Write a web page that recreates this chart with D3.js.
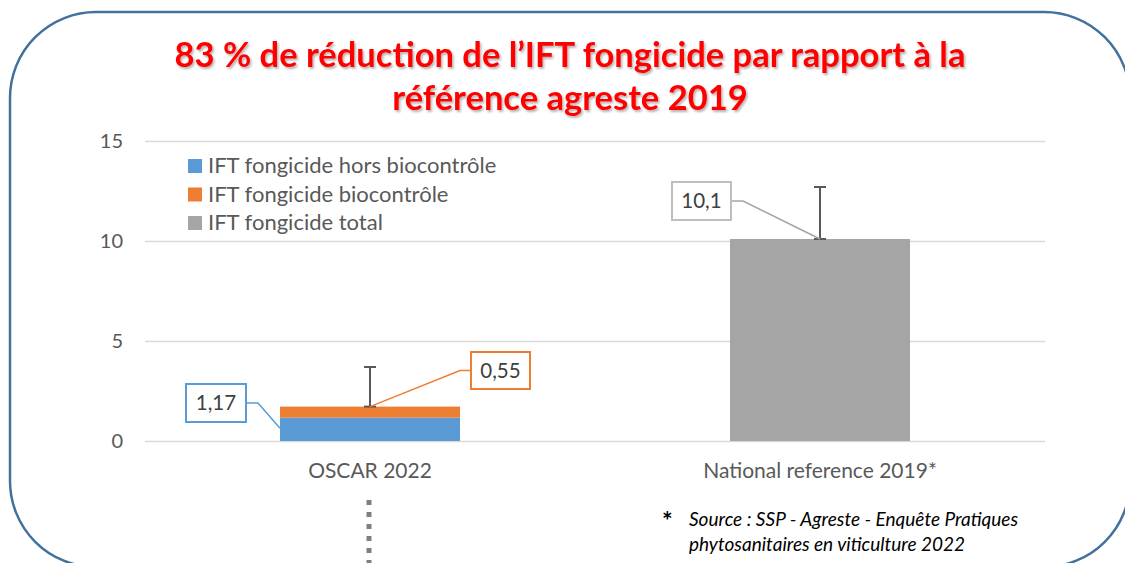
<!DOCTYPE html>
<html lang="fr">
<head>
<meta charset="UTF-8">
<title>IFT fongicide</title>
<script src="https://cdn.jsdelivr.net/npm/d3@7"></script>
<style>
  body { margin: 0; background: #fff; }
  text { font-family: Lato, "Open Sans", sans-serif; }
</style>
</head>
<body>
<script>
let width = 1125;
let height = 563;

// data
let categories = ['OSCAR 2022', 'National reference 2019*'];
let horsBio = [1.17, 0];
let bio = [0.55, 0];
let total = [0, 10.1];
let errTop = [3.7, 12.7];
let yTicks = [0, 5, 10, 15];
let legendLabels = ['IFT fongicide hors biocontrôle', 'IFT fongicide biocontrôle', 'IFT fongicide total'];
let colors = ['#5b9bd5', '#ed7d31', '#a5a5a5'];
let titleLines = ['83 % de réduction de l’IFT fongicide par rapport à la', 'référence agreste 2019'];
let noteLines = ['Source : SSP - Agreste - Enquête Pratiques', 'phytosanitaires en viticulture 2022'];

let plotLeft = 145, plotRight = 1045, plotTop = 141, plotBottom = 441;

let x = d3.scaleBand()
  .domain(categories)
  .range([plotLeft, plotRight])
  .paddingInner(0.6)
  .paddingOuter(0.3);

let y = d3.scaleLinear()
  .domain([0, 15])
  .range([plotBottom, plotTop]);

let svg = d3.select('body').append('svg')
  .attr('width', width)
  .attr('height', height);

let defs = svg.append('defs');
let f = defs.append('filter').attr('id', 'shadow')
  .attr('x', '-5%').attr('y', '-20%').attr('width', '110%').attr('height', '140%');
f.append('feDropShadow')
  .attr('dx', 1.5).attr('dy', 2).attr('stdDeviation', 1.2)
  .attr('flood-color', '#000').attr('flood-opacity', 0.3);

// frame
svg.append('rect')
  .attr('x', 10).attr('y', 12)
  .attr('width', 1120).attr('height', 555)
  .attr('rx', 86).attr('ry', 86)
  .attr('fill', 'none')
  .attr('stroke', '#41719c')
  .attr('stroke-width', 2.5);

// title
svg.append('g').selectAll('text')
  .data(titleLines)
  .enter().append('text')
  .attr('x', 570)
  .attr('y', (d, i) => 67 + i * 43)
  .attr('text-anchor', 'middle')
  .attr('font-size', 34.5)
  .attr('font-weight', 'bold')
  .attr('fill', '#ff0000')
  .attr('filter', 'url(#shadow)')
  .text(d => d);

// grid + y labels
let yAxis = d3.axisLeft(y)
  .tickValues(yTicks)
  .tickSize(-(plotRight - plotLeft))
  .tickPadding(22);

let gy = svg.append('g')
  .attr('transform', 'translate(' + plotLeft + ',0)')
  .call(yAxis);
gy.select('.domain').remove();
gy.selectAll('.tick line').attr('stroke', '#d9d9d9').attr('stroke-width', 1.5);
gy.selectAll('.tick text')
  .attr('font-size', 20)
  .attr('fill', '#595959')
  .style('font-family', 'Lato, sans-serif');

// x labels
let xAxis = d3.axisBottom(x).tickSize(0).tickPadding(22);
let gx = svg.append('g')
  .attr('transform', 'translate(0,' + plotBottom + ')')
  .call(xAxis);
gx.select('.domain').remove();
gx.selectAll('.tick text')
  .attr('font-size', 21)
  .attr('fill', '#595959')
  .style('font-family', 'Lato, sans-serif');

// bars
let stack = categories.map((c, i) => [
  { c: c, y0: 0, y1: horsBio[i], color: colors[0] },
  { c: c, y0: horsBio[i], y1: horsBio[i] + bio[i], color: colors[1] },
  { c: c, y0: horsBio[i] + bio[i], y1: horsBio[i] + bio[i] + total[i], color: colors[2] }
]).flat().filter(d => d.y1 > d.y0);

svg.append('g').selectAll('rect')
  .data(stack)
  .enter().append('rect')
  .attr('x', d => x(d.c))
  .attr('width', x.bandwidth())
  .attr('y', d => y(d.y1))
  .attr('height', d => y(d.y0) - y(d.y1))
  .attr('fill', d => d.color);

// error bars
let errs = categories.map((c, i) => ({ c: c, base: horsBio[i] + bio[i] + total[i], hi: errTop[i] }));
let ge = svg.append('g').attr('stroke', '#595959').attr('stroke-width', 2);
errs.forEach(d => {
  let cx = x(d.c) + x.bandwidth() / 2;
  ge.append('line').attr('x1', cx).attr('x2', cx).attr('y1', y(d.base)).attr('y2', y(d.hi));
  ge.append('line').attr('x1', cx - 6).attr('x2', cx + 6).attr('y1', y(d.hi)).attr('y2', y(d.hi));
  ge.append('line').attr('x1', cx - 6).attr('x2', cx + 6).attr('y1', y(d.base)).attr('y2', y(d.base));
});

// callouts
function callout(label, bx, by, bw, bh, side, tx, ty, stroke, lineColor) {
  let g = svg.append('g');
  let ex = side === 'right' ? bx + bw : bx;
  let kx = side === 'right' ? ex + 12 : ex - 11;
  let my = by + bh / 2;
  g.append('polyline')
    .attr('points', [[ex, my], [kx, my], [tx, ty]].map(p => p.join(',')).join(' '))
    .attr('fill', 'none')
    .attr('stroke', lineColor)
    .attr('stroke-width', 1.5);
  g.append('rect')
    .attr('x', bx).attr('y', by).attr('width', bw).attr('height', bh)
    .attr('fill', '#fff').attr('stroke', stroke).attr('stroke-width', 2);
  g.append('text')
    .attr('x', bx + bw / 2).attr('y', by + bh / 2 + 7)
    .attr('text-anchor', 'middle')
    .attr('font-size', 20.5)
    .attr('fill', '#404040')
    .text(label);
}

let c0 = categories[0], c1 = categories[1];
callout(String(horsBio[0]).replace('.', ','), 186, 384, 60, 38, 'right',
  x(c0), y(horsBio[0] / 2) - 1, colors[0], colors[0]);
callout(String(bio[0]).replace('.', ','), 471, 352, 59, 37, 'left',
  x(c0) + x.bandwidth() / 2, y(horsBio[0] + bio[0]), colors[1], colors[1]);
callout(String(total[1]).replace('.', ','), 672, 182, 59, 38, 'right',
  x(c1) + x.bandwidth() / 2, y(total[1]), '#bfbfbf', '#a5a5a5');

// legend
let lg = svg.append('g').attr('transform', 'translate(188,159)');
let li = lg.selectAll('g')
  .data(legendLabels)
  .enter().append('g')
  .attr('transform', (d, i) => 'translate(0,' + i * 28.5 + ')');
li.append('rect').attr('width', 14).attr('height', 14).attr('fill', (d, i) => colors[i]);
li.append('text')
  .attr('x', 20).attr('y', 14)
  .attr('font-size', 22)
  .attr('fill', '#595959')
  .text(d => d);

// dotted connector
svg.append('line')
  .attr('x1', x(c0) + x.bandwidth() / 2 - 1).attr('x2', x(c0) + x.bandwidth() / 2 - 1)
  .attr('y1', 500).attr('y2', 563)
  .attr('stroke', '#7f7f7f')
  .attr('stroke-width', 5)
  .attr('stroke-dasharray', '5,7');

// footnote
svg.append('text')
  .attr('x', 662).attr('y', 530)
  .attr('font-size', 25)
  .attr('font-weight', 'bold')
  .attr('fill', '#000')
  .text('*');
svg.append('g').selectAll('text')
  .data(noteLines)
  .enter().append('text')
  .attr('x', 689)
  .attr('y', (d, i) => 526 + i * 25)
  .attr('font-size', 19)
  .attr('font-style', 'italic')
  .attr('fill', '#000')
  .text(d => d);
</script>
</body>
</html>
